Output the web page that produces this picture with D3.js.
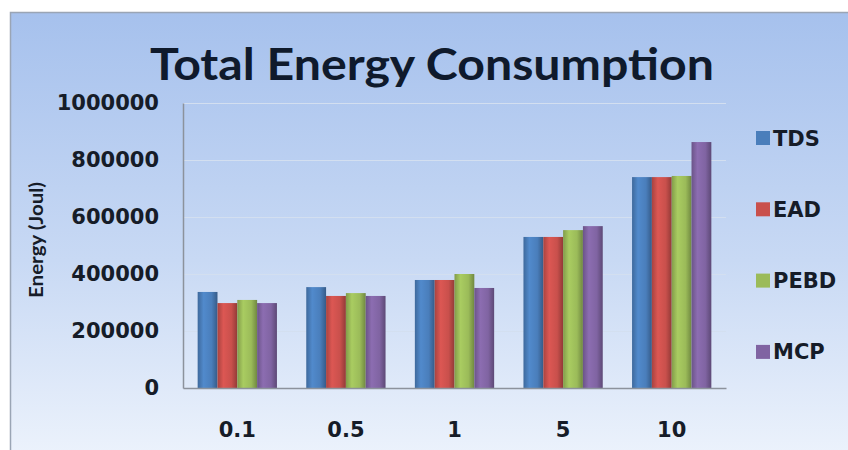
<!DOCTYPE html>
<html>
<head>
<meta charset="utf-8">
<script src="https://cdn.jsdelivr.net/npm/d3@7"></script>
<style>
  html, body { margin: 0; padding: 0; background: #ffffff; }
  svg { display: block; }
</style>
</head>
<body>
<svg id="chart" width="848" height="450"></svg>
<script>
// Data
const categories = ["0.1", "0.5", "1", "5", "10"];
const seriesNames = ["TDS", "EAD", "PEBD", "MCP"];
const tds  = [337000, 354000, 379000, 530000, 740000];
const ead  = [298000, 323000, 379000, 530000, 740000];
const pebd = [309000, 333000, 400000, 554000, 744000];
const mcp  = [298000, 323000, 351000, 568000, 863000];
const yTicks = [0, 200000, 400000, 600000, 800000, 1000000];

const seriesValues = [tds, ead, pebd, mcp];
const colors = ["#4a7ebb", "#c9504c", "#9bbb59", "#8064a2"];
const titleFont = "Lato, 'Open Sans', sans-serif";
const labelFont = "'DejaVu Sans', sans-serif";
const textColor = "#161c28";

const svg = d3.select("#chart");
const W = 848, H = 450;
const plot = { left: 183, right: 726, top: 103, bottom: 388 };

const defs = svg.append("defs");
const bg = defs.append("linearGradient").attr("id", "bg")
  .attr("x1", 0).attr("y1", 0).attr("x2", 0).attr("y2", 1);
bg.append("stop").attr("offset", "0%").attr("stop-color", "#a6c1ed");
bg.append("stop").attr("offset", "55%").attr("stop-color", "#c8d9f4");
bg.append("stop").attr("offset", "100%").attr("stop-color", "#edf3fc");

// cylindrical shading for each series
colors.forEach((c, i) => {
  const g = defs.append("linearGradient").attr("id", "bar" + i)
    .attr("x1", 0).attr("y1", 0).attr("x2", 1).attr("y2", 0);
  const base = d3.color(c);
  g.append("stop").attr("offset", "0%").attr("stop-color", base.darker(0.5));
  g.append("stop").attr("offset", "30%").attr("stop-color", base.brighter(0.25));
  g.append("stop").attr("offset", "70%").attr("stop-color", base);
  g.append("stop").attr("offset", "100%").attr("stop-color", base.darker(0.9));
});

// chart area frame
svg.append("rect").attr("x", 10.5).attr("y", 12.5).attr("width", W).attr("height", H)
  .attr("fill", "url(#bg)").attr("stroke", "#9aa5b5").attr("stroke-width", 1.5);

// scales
const x0 = d3.scaleBand().domain(categories).range([plot.left, plot.right]).paddingInner(0.27).paddingOuter(0.135);
const x1 = d3.scaleBand().domain(seriesNames).range([0, x0.bandwidth()]).padding(0);
const y = d3.scaleLinear().domain([0, 1000000]).range([plot.bottom, plot.top]);

// gridlines
svg.append("g").selectAll("line").data(yTicks.filter(d => d > 0)).join("line")
  .attr("x1", plot.left).attr("x2", plot.right)
  .attr("y1", d => y(d) + 0.5).attr("y2", d => y(d) + 0.5)
  .attr("stroke", "#d3dff0").attr("stroke-width", 1.2);

// bars
const groups = svg.append("g").selectAll("g").data(categories).join("g")
  .attr("transform", d => `translate(${x0(d)},0)`);
groups.selectAll("rect")
  .data((d, ci) => seriesNames.map((s, si) => ({ s, si, v: seriesValues[si][ci] })))
  .join("rect")
  .attr("x", d => x1(d.s))
  .attr("y", d => y(d.v))
  .attr("width", x1.bandwidth())
  .attr("height", d => y(0) - y(d.v))
  .attr("fill", d => `url(#bar${d.si})`);

// y axis
const yAxis = svg.append("g").attr("transform", `translate(${plot.left},0)`)
  .call(d3.axisLeft(y).tickValues(yTicks).tickFormat(d3.format("d")).tickSize(0).tickPadding(24));
yAxis.select(".domain").attr("stroke", "#8c929c").attr("stroke-width", 1.5);
yAxis.selectAll("text").attr("font-family", labelFont).attr("font-weight", "bold")
  .attr("font-size", 21).attr("fill", textColor);

// x axis
const xAxis = svg.append("g").attr("transform", `translate(0,${plot.bottom})`)
  .call(d3.axisBottom(x0).tickSize(0).tickPadding(34));
xAxis.select(".domain").attr("stroke", "#8c929c").attr("stroke-width", 1.5);
xAxis.selectAll("text").attr("font-family", labelFont).attr("font-weight", "bold")
  .attr("font-size", 21).attr("fill", textColor);

// title
svg.append("text").attr("x", 432).attr("y", 80).attr("text-anchor", "middle")
  .attr("font-family", titleFont).attr("font-weight", "bold").attr("font-size", 44)
  .attr("textLength", 564).attr("lengthAdjust", "spacingAndGlyphs")
  .attr("fill", "#0f1a2c").text("Total Energy Consumption");

// y axis title
svg.append("text").attr("transform", "translate(43,240) rotate(-90)")
  .attr("text-anchor", "middle").attr("font-family", titleFont).attr("font-weight", "bold")
  .attr("font-size", 18).attr("textLength", 116).attr("lengthAdjust", "spacingAndGlyphs")
  .attr("fill", textColor).text("Energy (Joul)");

// legend
const legend = svg.append("g").selectAll("g").data(seriesNames).join("g")
  .attr("transform", (d, i) => `translate(756,${138 + i * 71.3})`);
legend.append("rect").attr("x", 0).attr("y", -7).attr("width", 14).attr("height", 14)
  .attr("fill", (d, i) => colors[i]);
legend.append("text").attr("x", 17).attr("y", 0).attr("dy", "0.36em")
  .attr("font-family", labelFont).attr("font-weight", "bold").attr("font-size", 21)
  .attr("fill", textColor).text(d => d);
</script>
</body>
</html>
